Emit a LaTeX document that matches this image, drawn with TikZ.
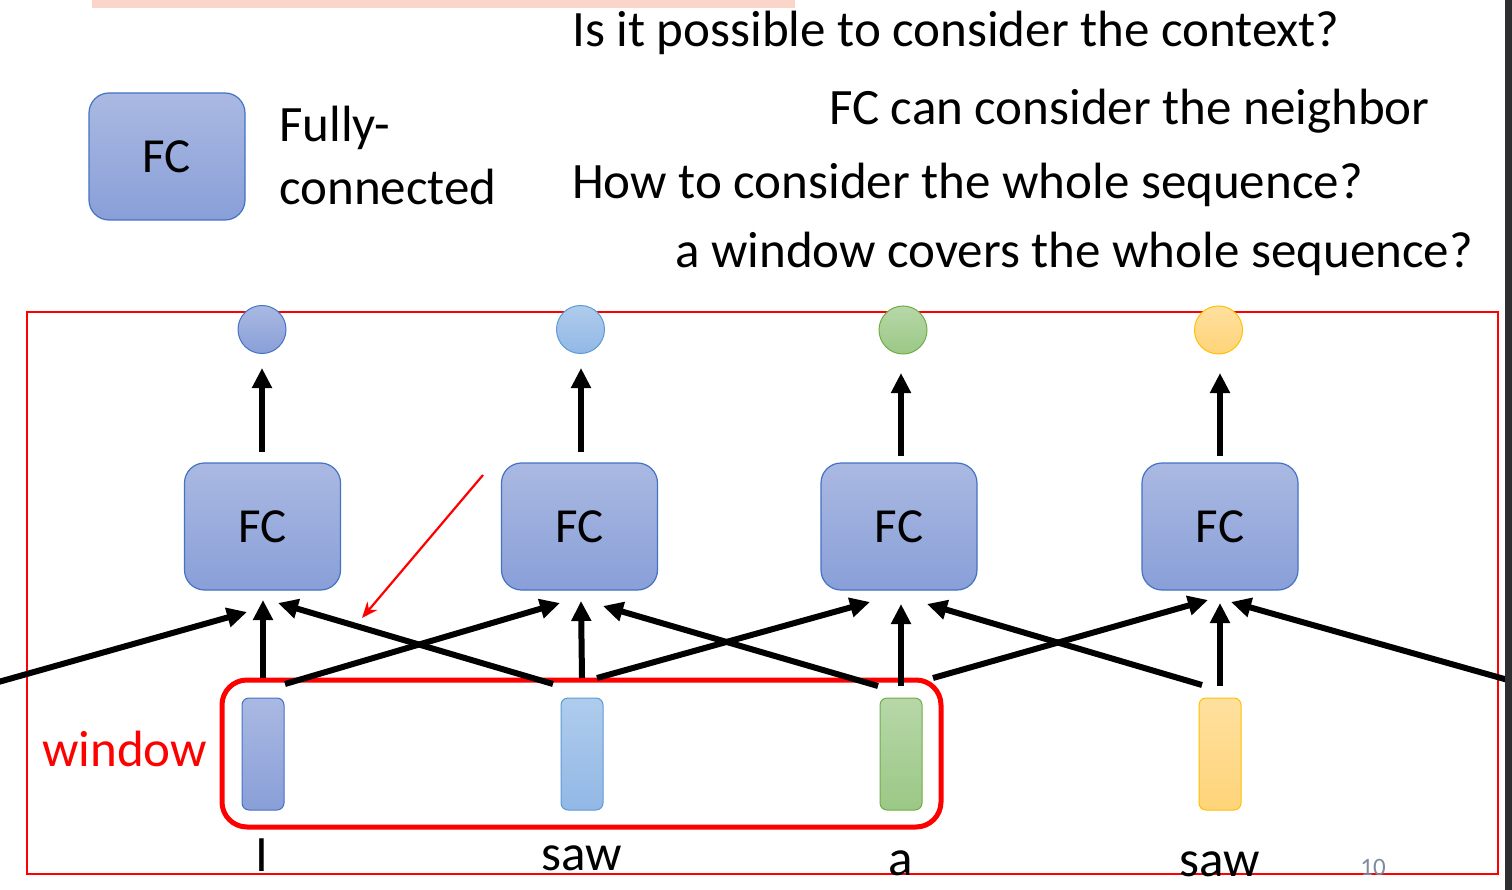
\documentclass[tikz,border=0pt]{standalone}
\usepackage{fontspec}
\setmainfont{Carlito}
\usetikzlibrary{arrows.meta}
\definecolor{fcborder}{HTML}{4472C4}
\definecolor{fctop}{HTML}{AAB9E2}
\definecolor{fcbot}{HTML}{899FD8}
\definecolor{bltop}{HTML}{AFCCEC}
\definecolor{blbot}{HTML}{92B8E6}
\definecolor{blborder}{HTML}{5B9BD5}
\definecolor{grtop}{HTML}{B7D7A8}
\definecolor{grbot}{HTML}{9BC886}
\definecolor{grborder}{HTML}{70AD47}
\definecolor{yetop}{HTML}{FFE09F}
\definecolor{yebot}{HTML}{FFD479}
\definecolor{yeborder}{HTML}{FFC000}
\definecolor{pinkbar}{HTML}{FBD5C9}
\definecolor{darkbar}{HTML}{2E2E30}
\definecolor{pagenum}{HTML}{7F8BA3}
\definecolor{myred}{HTML}{FF0000}
\begin{document}
\begin{tikzpicture}[x=1pt,y=-1pt,
  fcbox/.style={draw=fcborder, line width=1.2pt, rounded corners=20pt,
    top color=fctop, bottom color=fcbot, minimum width=156pt, minimum height=127pt,
    inner sep=0pt, font=\fontsize{49}{56}\selectfont},
  outc/.style={circle, minimum size=48pt, inner sep=0pt, line width=1pt},
  inrect/.style={rectangle, rounded corners=7pt, minimum width=42pt,
    minimum height=112pt, inner sep=0pt, line width=1pt},
  arr/.style={line width=6pt, -{Triangle[length=20pt,width=19pt]}},
  lbl/.style={inner sep=0pt, anchor=base west, font=\fontsize{51}{60}\selectfont},
  word/.style={inner sep=0pt, anchor=base, font=\fontsize{51}{60}\selectfont}]
\useasboundingbox (0,0) rectangle (1512,890);
\fill[white] (0,0) rectangle (1512,890);

% pink bar at top
\fill[pinkbar] (92,0) rectangle (795,8);

% texts
\node[lbl] (q1) at (572,47) {Is it possible to consider the context?};
\node[lbl] (q2) at (829,125) {FC can consider the neighbor};
\node[lbl] (q3) at (572,199) {How to consider the whole sequence?};
\node[lbl] (q4) at (675,268) {a window covers the whole sequence?};

% legend
\node[fcbox] (leg) at (167,156.5) {FC};
\node[lbl] (full1) at (279,142) {Fully-};
\node[lbl] (full2) at (279,205) {connected};

% big red frame
\draw[myred, line width=2.5pt] (27,312) rectangle (1498,874);

% outputs
\node[outc, draw=fcborder, top color=fctop, bottom color=fcbot] (o1) at (262,329.5) {};
\node[outc, draw=blborder, top color=bltop, bottom color=blbot] (o2) at (580.5,329.5) {};
\node[outc, draw=grborder, top color=grtop, bottom color=grbot] (o3) at (903,330) {};
\node[outc, draw=yeborder, top color=yetop, bottom color=yebot] (o4) at (1218.5,330) {};

% FC boxes
\node[fcbox] (fc1) at (262.5,526.5) {FC};
\node[fcbox] (fc2) at (579.5,526.5) {FC};
\node[fcbox] (fc3) at (899,526.5) {FC};
\node[fcbox] (fc4) at (1220,526.5) {FC};

% inputs
\node[inrect, draw=fcborder, top color=fctop, bottom color=fcbot] (in1) at (263,754) {};
\node[inrect, draw=blborder, top color=bltop, bottom color=blbot] (in2) at (582,754) {};
\node[inrect, draw=grborder, top color=grtop, bottom color=grbot] (in3) at (901,754) {};
\node[inrect, draw=yeborder, top color=yetop, bottom color=yebot] (in4) at (1220,754) {};

% words
\node[word] (w1) at (262,871) {I};
\node[word] (w2) at (582,870) {saw};
\node[word] (w3) at (901,875) {a};
\node[word] (w4) at (1220,876) {saw};
\node[inner sep=0pt, anchor=base, text=pagenum, font=\fontsize{25}{28}\selectfont] (pn) at (1373,875) {10};

% window
\draw[myred, line width=5pt, rounded corners=25pt] (222,680) rectangle (941,827);
\node[inner sep=0pt, anchor=base west, text=myred, font=\fontsize{51}{60}\selectfont] (win) at (42,766) {window};

% red pointer
\coordinate (rp1) at (483,475);
\coordinate (rp2) at (362,618);
\draw[myred, line width=2.2pt, -{Stealth[length=16pt,width=13pt]}] (rp1) -- (rp2);

% FC -> output arrows
\coordinate (u1s) at (262,452); \coordinate (u1t) at (262,368);
\coordinate (u2s) at (581,452); \coordinate (u2t) at (581,368);
\coordinate (u3s) at (901,456); \coordinate (u3t) at (901,373);
\coordinate (u4s) at (1220,456); \coordinate (u4t) at (1220,373);
\draw[arr] (u1s) -- (u1t);
\draw[arr] (u2s) -- (u2t);
\draw[arr] (u3s) -- (u3t);
\draw[arr] (u4s) -- (u4t);

% tips at FC boxes
\coordinate (f1L) at (247,612); \coordinate (f1V) at (263,600); \coordinate (f1R) at (278,603);
\coordinate (f2L) at (560,603); \coordinate (f2V) at (581,601); \coordinate (f2R) at (603,606);
\coordinate (f3L) at (870,602); \coordinate (f3V) at (901,604); \coordinate (f3R) at (927,604);
\coordinate (f4L) at (1208,600); \coordinate (f4V) at (1220,603); \coordinate (f4R) at (1231,602);
% starts at inputs
\coordinate (s0R) at (-30,690);
\coordinate (s1V) at (263,678); \coordinate (s1R) at (285,684);
\coordinate (s2L) at (553,684); \coordinate (s2V) at (582,678); \coordinate (s2R) at (597,678);
\coordinate (s3L) at (878,686); \coordinate (s3V) at (901,686); \coordinate (s3R) at (933,678);
\coordinate (s4L) at (1202,685); \coordinate (s4V) at (1220,686);
\coordinate (s5L) at (1540,689);

\draw[arr] (s0R) -- (f1L);
\draw[arr] (s1V) -- (f1V);
\draw[arr] (s2L) -- (f1R);
\draw[arr] (s1R) -- (f2L);
\draw[arr] (s2V) -- (f2V);
\draw[arr] (s3L) -- (f2R);
\draw[arr] (s2R) -- (f3L);
\draw[arr] (s3V) -- (f3V);
\draw[arr] (s4L) -- (f3R);
\draw[arr] (s3R) -- (f4L);
\draw[arr] (s4V) -- (f4V);
\draw[arr] (s5L) -- (f4R);

% dark bar at right edge
\fill[darkbar] (1505,0) rectangle (1512,890);
\end{tikzpicture}
\end{document}
